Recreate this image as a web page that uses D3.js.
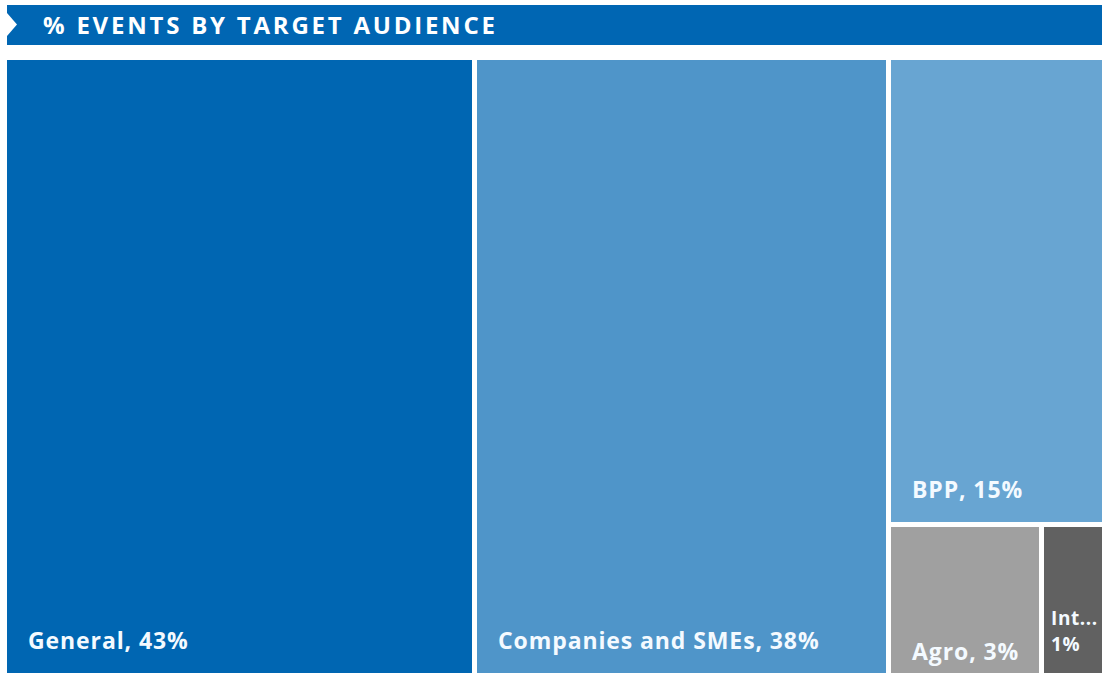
<!DOCTYPE html>
<html>
<head>
<meta charset="utf-8">
<script src="https://cdn.jsdelivr.net/npm/d3@7"></script>
<style>
  html, body { margin: 0; padding: 0; background: #ffffff; }
  svg { display: block; }
  text { font-family: "Open Sans", "Lato", sans-serif; }
</style>
</head>
<body>
<svg id="chart" width="1102" height="673"></svg>
<script>
const title = "% EVENTS BY TARGET AUDIENCE";
const categories = ["General", "Companies and SMEs", "BPP", "Agro", "International"];
const values = [42.7, 37.6, 14.8, 3.4, 1.4];
const colors = ["#0066B2", "#4F95C9", "#68A5D2", "#A0A0A0", "#616161"];

const W = 1102, H = 673;
const svg = d3.select("#chart");

// Title bar
svg.append("rect").attr("x", 7).attr("y", 5).attr("width", W - 7).attr("height", 40).attr("fill", "#0066B3");
svg.append("polygon").attr("points", "7,13 17,24.5 7,36").attr("fill", "#ffffff");
const t = svg.append("text")
  .attr("x", 43).attr("y", 34)
  .attr("fill", "#ffffff")
  .attr("font-size", 24).attr("font-weight", 700)
  .text(title);
{
  const target = 452;
  const len = t.node().getComputedTextLength();
  const ls = (target - len) / (title.length - 1);
  t.attr("letter-spacing", ls.toFixed(2));
}

// Treemap
const area = { x: 7, y: 60, w: W - 7, h: H - 60 };
const rootData = { children: categories.map((c, i) => ({ name: c, value: values[i], color: colors[i] })) };
const root = d3.hierarchy(rootData).sum(d => d.value || 0).sort((a, b) => b.value - a.value);
d3.treemap().tile(d3.treemapSquarify.ratio(1)).size([area.w, area.h]).paddingInner(5).round(true)(root);

const g = svg.append("g").attr("transform", `translate(${area.x},${area.y})`);
const cells = g.selectAll("g.cell").data(root.leaves()).join("g").attr("class", "cell");
cells.append("rect")
  .attr("x", d => d.x0).attr("y", d => d.y0)
  .attr("width", d => d.x1 - d.x0).attr("height", d => d.y1 - d.y0)
  .attr("fill", d => d.data.color);

const fmt = v => Math.round(v) + "%";
const FS = 23, LS = 0.9;
cells.each(function(d) {
  const sel = d3.select(this);
  const w = d.x1 - d.x0, h = d.y1 - d.y0;
  const full = d.data.name + ", " + fmt(d.data.value);
  const off = h < 200 ? 13 : 24;
  const txt = sel.append("text")
    .attr("fill", "#F4FAFF").attr("font-size", FS).attr("font-weight", 700)
    .attr("letter-spacing", LS)
    .attr("x", d.x0 + 21).attr("y", d.y1 - off)
    .text(full);
  if (txt.node().getComputedTextLength() > w - 30) {
    const pad = 7, fs2 = 19;
    txt.attr("x", d.x0 + pad).attr("y", d.y1 - 48)
       .attr("font-size", fs2).attr("letter-spacing", 0.6);
    let name = d.data.name;
    txt.text(name);
    while (name.length > 1 && txt.node().getComputedTextLength() > w - pad - 1) {
      name = name.slice(0, -1);
      txt.text(name + "...");
    }
    sel.append("text")
      .attr("fill", "#F4FAFF").attr("font-size", fs2).attr("font-weight", 700)
      .attr("letter-spacing", 0.6)
      .attr("x", d.x0 + pad).attr("y", d.y1 - 22)
      .text(fmt(d.data.value));
  }
});
</script>
</body>
</html>
